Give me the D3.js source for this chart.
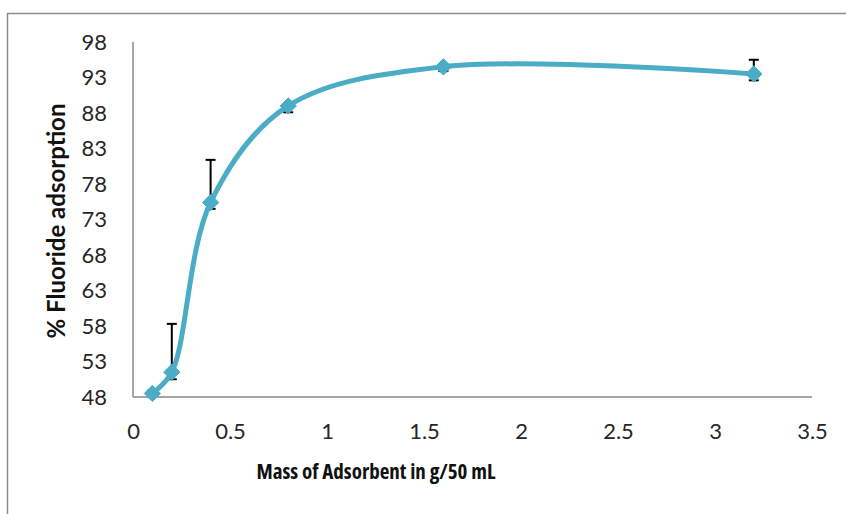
<!DOCTYPE html>
<html>
<head>
<meta charset="utf-8">
<script src="https://cdn.jsdelivr.net/npm/d3@7"></script>
<style>
  html, body { margin: 0; padding: 0; background: #fff; }
  svg { display: block; }
  text { font-family: Lato, "Open Sans", sans-serif; }
  .narrow { font-family: "Open Sans", sans-serif; font-stretch: 75%; }
</style>
</head>
<body>
<svg id="chart" width="846" height="514"></svg>
<script>
// Adsorbent dose (g per 50 mL) vs. fluoride removal (%)
const mass = [0.1, 0.2, 0.4, 0.8, 1.6, 3.2];
const adsorption = [48.5, 51.5, 75.4, 89.0, 94.5, 93.5];
const errPlus = [0.4, 6.8, 6.0, 0.3, 0.3, 2.0];
const errMinus = [0.4, 1.0, 0.9, 0.9, 0.6, 0.9];
const xTicks = [0, 0.5, 1, 1.5, 2, 2.5, 3, 3.5];
const yTicks = [48, 53, 58, 63, 68, 73, 78, 83, 88, 93, 98];

const svg = d3.select("#chart");
const W = 846, H = 514;
const plot = { left: 133, right: 812, top: 42, bottom: 397 };

// outer chart frame (right/bottom edges fall outside the view)
svg.append("rect")
  .attr("x", 7.5).attr("y", 13.5)
  .attr("width", W + 20).attr("height", H + 20)
  .attr("fill", "none").attr("stroke", "#8c8c8c").attr("stroke-width", 1.5);

const x = d3.scaleLinear().domain([0, 3.5]).range([plot.left, plot.right]);
const y = d3.scaleLinear().domain([48, 98]).range([plot.bottom, plot.top]);

// axes without tick marks
const xAxis = d3.axisBottom(x).tickValues(xTicks).tickSize(0).tickPadding(25)
  .tickFormat(d => String(d));
const yAxis = d3.axisLeft(y).tickValues(yTicks).tickSize(0).tickPadding(26)
  .tickFormat(d => String(d));

const gx = svg.append("g").attr("transform", `translate(0,${plot.bottom})`).call(xAxis);
const gy = svg.append("g").attr("transform", `translate(${plot.left},0)`).call(yAxis);

[gx, gy].forEach(g => {
  g.select(".domain").attr("stroke", "#8a8a8a").attr("stroke-width", 1.5);
  g.selectAll("text").attr("font-size", 22).attr("fill", "#262626")
    .style("font-family", "Lato, 'Open Sans', sans-serif");
});
gx.selectAll(".tick text").attr("dy", "0").attr("y", 42);
gx.select(".domain").attr("d", `M${plot.left},0H${plot.right}`);
gy.select(".domain").attr("d", `M0,${plot.bottom}V${plot.top}`);

// axis titles
svg.append("text")
  .attr("class", "narrow")
  .attr("x", 376).attr("y", 479)
  .attr("text-anchor", "middle")
  .attr("font-size", 21).attr("font-weight", "bold").attr("fill", "#111")
  .text("Mass of Adsorbent in g/50 mL");

svg.append("text")
  .attr("transform", `translate(65,221) rotate(-90)`)
  .attr("text-anchor", "middle")
  .attr("font-size", 24).attr("font-weight", "bold").attr("fill", "#111")
  .text("% Fluoride adsorption");

const pts = mass.map((m, i) => ({ m, v: adsorption[i], hi: errPlus[i], lo: errMinus[i] }));

// error bars
const eb = svg.append("g").attr("stroke", "#000").attr("stroke-width", 2).attr("fill", "none");
pts.forEach(p => {
  const cx = x(p.m);
  eb.append("line").attr("x1", cx).attr("x2", cx).attr("y1", y(p.v - p.lo)).attr("y2", y(p.v + p.hi));
  eb.append("line").attr("x1", cx - 5).attr("x2", cx + 5).attr("y1", y(p.v + p.hi)).attr("y2", y(p.v + p.hi));
  eb.append("line").attr("x1", cx - 5).attr("x2", cx + 5).attr("y1", y(p.v - p.lo)).attr("y2", y(p.v - p.lo));
});

// smoothed series line
const line = d3.line().x(d => x(d.m)).y(d => y(d.v)).curve(d3.curveCatmullRom.alpha(0.5));
svg.append("path").datum(pts)
  .attr("d", line)
  .attr("fill", "none").attr("stroke", "#4BACC6").attr("stroke-width", 5)
  .attr("stroke-linejoin", "round");

// diamond markers
const diamond = d3.symbol().type(d3.symbolDiamond2).size(170);
svg.append("g").selectAll("path").data(pts).join("path")
  .attr("transform", d => `translate(${x(d.m)},${y(d.v)})`)
  .attr("d", diamond)
  .attr("fill", "#4BACC6").attr("stroke", "#4BACC6").attr("stroke-width", 1);
</script>
</body>
</html>
